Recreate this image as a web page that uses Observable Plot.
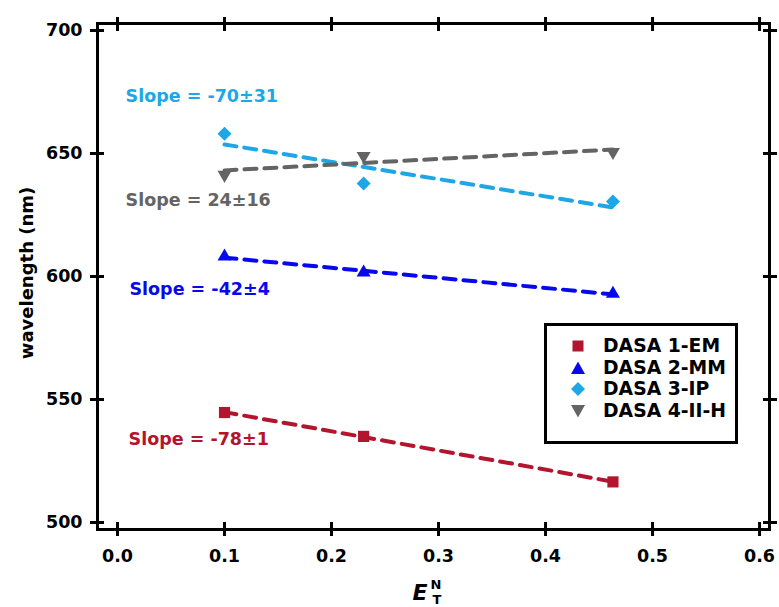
<!DOCTYPE html>
<html><head><meta charset="utf-8">
<script src="https://cdn.jsdelivr.net/npm/d3@7"></script>
<script src="https://cdn.jsdelivr.net/npm/@observablehq/plot@0.6"></script>
<style>
body{margin:0;background:#fff;}
#wrap{position:relative;width:779px;height:607px;overflow:hidden;font-family:"DejaVu Sans",sans-serif;font-weight:bold;}
#legend{position:absolute;left:544px;top:323px;width:188px;height:106px;border:3px solid #000;background:#fff;box-sizing:content-box;padding-top:9px;}
.row{height:21.7px;display:flex;align-items:center;font-size:18.8px;line-height:21.7px;color:#000;}
.row svg{width:16px;height:16px;margin-left:23px;margin-right:17px;flex:none;}
</style></head><body><div id="wrap"></div>
<script>
const series = ["DASA 1-EM", "DASA 2-MM", "DASA 3-IP", "DASA 4-II-H"];
const etn = [0.1, 0.23, 0.463];
const wl1 = [544.7, 535.0, 516.5];
const wl2 = [608.1, 601.6, 593.0];
const wl3 = [658.0, 637.8, 630.5];
const wl4 = [641.3, 649.0, 650.6];
const slopeText = ["Slope = -78±1", "Slope = -42±4", "Slope = -70±31", "Slope = 24±16"];
const slopeX = [0.0103, 0.0112, 0.0075, 0.0075];
const slopeY = [533.7, 594.7, 673.2, 630.9];
const xTicks = [0, 0.1, 0.2, 0.3, 0.4, 0.5, 0.6];
const yTicks = [500, 550, 600, 650, 700];

const colors = ["#b2152d", "#0808ee", "#1ea7e6", "#646464"];
const symbols = ["square", "triangle", "square", "triangle"];
const rotations = [0, 0, 45, 180];
const radii = [6.3, 5.2, 5.6, 5.2];

const wls = [wl1, wl2, wl3, wl4];
const tables = wls.map((w, i) => etn.map((x, j) => ({series: series[i], x, y: w[j]})));
const labels = slopeText.map((t, i) => ({t, x: slopeX[i], y: slopeY[i], c: colors[i]}));

const marks = [];
tables.forEach((tb, i) => {
  marks.push(Plot.linearRegressionY(tb, {x: "x", y: "y", stroke: colors[i], strokeWidth: 4, strokeDasharray: "12,8", ci: 0}));
});
tables.forEach((tb, i) => {
  marks.push(Plot.dot(tb, {x: "x", y: "y", symbol: symbols[i], fill: colors[i], r: radii[i], rotate: rotations[i], stroke: "none"}));
});
marks.push(Plot.text(labels, {x: "x", y: "y", text: "t", fill: "c", textAnchor: "start", fontSize: 17.5, fontWeight: "bold"}));

const plot = Plot.plot({
  width: 779, height: 607,
  marginLeft: 97, marginRight: 10, marginTop: 23, marginBottom: 78,
  style: {fontFamily: "DejaVu Sans", fontWeight: "bold", fontSize: "17px", color: "#000", background: "#fff"},
  x: {domain: [-0.0187, 0.6093]},
  y: {domain: [497.15, 702.85]},
  marks: [
    Plot.frame({strokeWidth: 3, stroke: "#000"}),
    Plot.axisX(xTicks, {anchor: "bottom", tickSize: 0, tickPadding: 20, tickFormat: d3.format(".1f"), label: null, fontSize: 17.5}),
    Plot.axisY(yTicks, {anchor: "left", tickSize: 0, tickPadding: 15, label: null, fontSize: 17.5}),
    Plot.axisX(xTicks, {anchor: "bottom", tickSize: 14, inset: 7, fill: "none", strokeWidth: 3}),
    Plot.axisX(xTicks, {anchor: "top", tickSize: 14, inset: 7, fill: "none", strokeWidth: 3}),
    Plot.axisY(yTicks, {anchor: "left", tickSize: 14, inset: 7, fill: "none", strokeWidth: 3}),
    Plot.axisY(yTicks, {anchor: "right", tickSize: 14, inset: 7, fill: "none", strokeWidth: 3}),
    ...marks
  ]
});

const wrap = document.getElementById("wrap");
wrap.appendChild(plot);

const svg = d3.select(plot);
svg.append("text")
  .attr("transform", "translate(33,273) rotate(-90)")
  .attr("text-anchor", "middle")
  .attr("font-size", 18).attr("font-weight", "bold").attr("fill", "#000")
  .text("wavelength (nm)");
const xl = svg.append("text").attr("font-weight", "bold").attr("fill", "#000");
xl.append("tspan").attr("x", 420).attr("y", 600).attr("font-size", 22).attr("font-style", "italic").text("E");
xl.append("tspan").attr("x", 436).attr("y", 589).attr("font-size", 13).text("N");
xl.append("tspan").attr("x", 437).attr("y", 604).attr("font-size", 13).text("T");

// legend
const legend = document.createElement("div");
legend.id = "legend";
const shapes = [
  c => `<rect x="2.5" y="2.5" width="11" height="11" fill="${c}"/>`,
  c => `<path d="M8 1.5 L15 14 L1 14 Z" fill="${c}"/>`,
  c => `<path d="M8 1 L15 8 L8 15 L1 8 Z" fill="${c}"/>`,
  c => `<path d="M1 2 L15 2 L8 14.5 Z" fill="${c}"/>`
];
series.forEach((s, i) => {
  const row = document.createElement("div");
  row.className = "row";
  row.innerHTML = `<svg viewBox="0 0 16 16">${shapes[i](colors[i])}</svg><span>${s}</span>`;
  legend.appendChild(row);
});
wrap.appendChild(legend);
</script>
</body></html>
